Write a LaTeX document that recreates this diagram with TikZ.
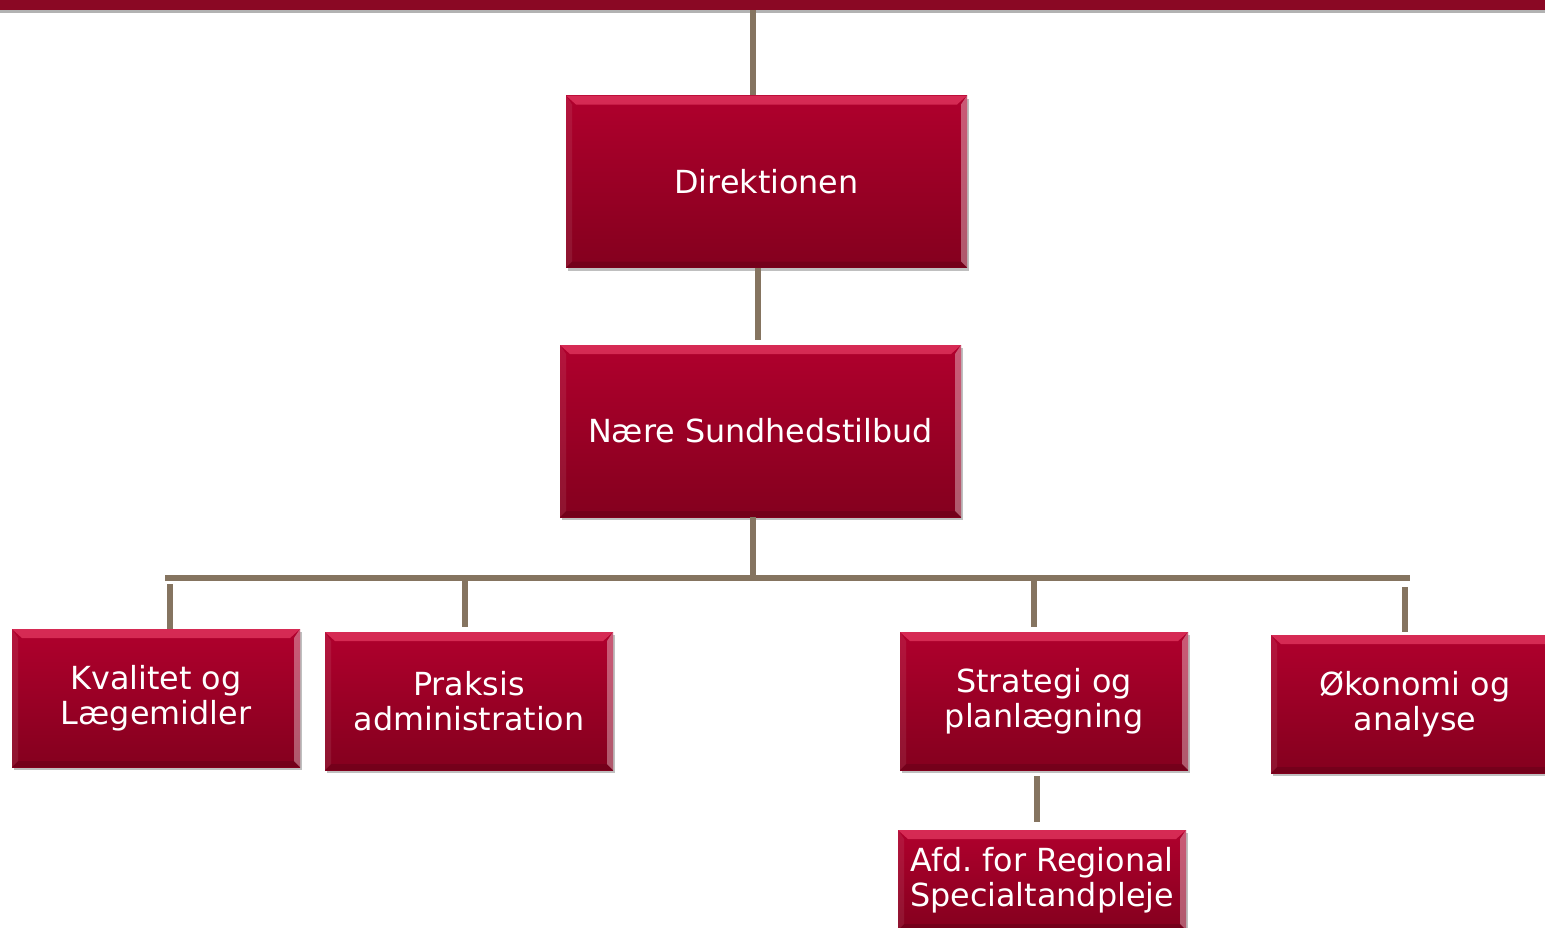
\documentclass[tikz,border=0pt]{standalone}
\usepackage{fontspec}
\newfontfamily\boxfont{DejaVu Sans}
\usetikzlibrary{shadows}

\definecolor{boxtop}{RGB}{176,0,45}
\definecolor{boxbot}{RGB}{132,0,30}
\definecolor{boxhi}{RGB}{240,70,110}
\definecolor{barred}{RGB}{138,8,36}
\definecolor{linkbrown}{RGB}{133,116,96}

\tikzset{
    unitbox/.style={rectangle, top color=boxtop, bottom color=boxbot,
        text=white, align=center, inner sep=2pt,
        font=\boxfont\fontsize{15.9}{17.5}\selectfont\frenchspacing,
        minimum width=144pt, minimum height=69pt,
        drop shadow={shadow xshift=1pt, shadow yshift=-1.5pt, opacity=0.25, fill=black},
        path picture={
            \fill[boxhi, opacity=0.6] (path picture bounding box.north west)
                -- (path picture bounding box.north east)
                -- ([xshift=-5pt,yshift=-4.5pt]path picture bounding box.north east)
                -- ([xshift=5pt,yshift=-4.5pt]path picture bounding box.north west) -- cycle;
            \fill[white, opacity=0.35] (path picture bounding box.north east)
                -- (path picture bounding box.south east)
                -- ([xshift=-3pt,yshift=3pt]path picture bounding box.south east)
                -- ([xshift=-3pt,yshift=-4.5pt]path picture bounding box.north east) -- cycle;
            \fill[white, opacity=0.08] (path picture bounding box.north west)
                -- (path picture bounding box.south west)
                -- ([xshift=3pt,yshift=3pt]path picture bounding box.south west)
                -- ([xshift=3pt,yshift=-4.5pt]path picture bounding box.north west) -- cycle;
            \fill[black, opacity=0.12] (path picture bounding box.south west)
                -- (path picture bounding box.south east)
                -- ([xshift=-3pt,yshift=3pt]path picture bounding box.south east)
                -- ([xshift=3pt,yshift=3pt]path picture bounding box.south west) -- cycle;
        }},
    bigbox/.style={unitbox, minimum width=200.5pt, minimum height=86pt},
    link/.style={draw=linkbrown, line width=3pt}
}

\begin{document}
\begin{tikzpicture}[x=0.5pt, y=-0.5pt]
    \useasboundingbox (0,0) rectangle (1545,927);

    % Top band
    \fill[barred, drop shadow={shadow xshift=0pt, shadow yshift=-1.5pt, opacity=0.3, fill=black}]
        (-10,-10) rectangle (1555,10);

    % Define the nodes
    \node[bigbox] (dir) at (766.5,181.5) {Direktionen};
    \node[bigbox] (naere) at (760.5,431) {Nære Sundhedstilbud};
    \node[unitbox] (kval) at (156,698) {Kvalitet og\\Lægemidler};
    \node[unitbox] (praks) at (469,701) {Praksis\\administration};
    \node[unitbox] (strat) at (1044,701) {Strategi og\\planlægning};
    \node[unitbox] (oeko) at (1415,704) {Økonomi og\\analyse};
    \node[unitbox, minimum height=50pt] (afd) at (1042,880) {Afd. for Regional\\Specialtandpleje};

    % Bar and hub
    \coordinate (top) at (753,10);
    \coordinate (hub) at (753,578);
    \coordinate (barL) at (165,578);
    \coordinate (barR) at (1410,578);

    % Draw the lines
    \draw[link] (top) -- (top |- dir.north);
    \draw[link, shorten >=2.5pt] ([xshift=-4.25pt]dir.south) -- ([xshift=-4.25pt]dir.south |- naere.north);
    \draw[link] (hub |- naere.south) -- (hub);
    \draw[link] (barL) -- (barR);
    \draw[link, shorten >=3pt] ([xshift=7pt]kval.north) -- ([xshift=7pt]kval.north |- barL);
    \draw[link, shorten <=2.5pt, shorten >=1.5pt] ([xshift=-2pt]praks.north) -- ([xshift=-2pt]praks.north |- barL);
    \draw[link, shorten <=2.5pt, shorten >=1.5pt] ([xshift=-5pt]strat.north) -- ([xshift=-5pt]strat.north |- barL);
    \draw[link, shorten <=1.5pt, shorten >=4.5pt] ([xshift=-5pt]oeko.north) -- ([xshift=-5pt]oeko.north |- barL);
    \draw[link, shorten <=3pt, shorten >=4pt] ([xshift=-3.5pt]strat.south) -- ([xshift=-3.5pt]strat.south |- afd.north);
\end{tikzpicture}
\end{document}
